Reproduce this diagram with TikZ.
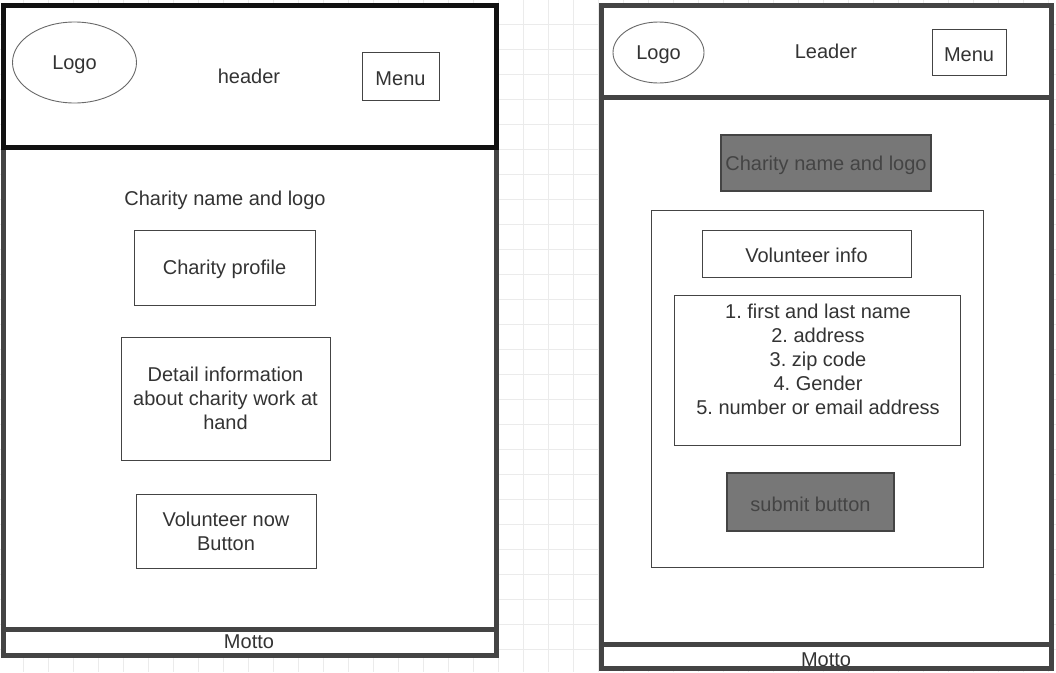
\documentclass[tikz,border=0pt]{standalone}
\usepackage{fontspec}
\setmainfont{Liberation Sans}
\usetikzlibrary{positioning, shapes.geometric}
\frenchspacing

\definecolor{gridgray}{HTML}{EBEBEB}
\definecolor{framegray}{HTML}{444444}
\definecolor{headblack}{HTML}{111111}
\definecolor{txtgray}{HTML}{333333}
\definecolor{btngray}{HTML}{777777}

\begin{document}
\begin{tikzpicture}[x=1pt, y=-1pt,
    every node/.style={font=\fontsize{20}{24}\selectfont, text=txtgray, align=center, inner sep=0pt,
      execute at begin node=\rule{0pt}{18.5pt}},
    wirebox/.style={draw=framegray, line width=1pt, fill=white},
    greybox/.style={draw=framegray, line width=1.3pt, fill=btngray, text=framegray},
    logoshape/.style={ellipse, draw=framegray!80, line width=0.9pt},
    frameline/.style={draw=framegray, line width=5pt}]

    \useasboundingbox (0,0) rectangle (1056,672);

    % Draw background grid
    \foreach \i in {0,...,41} {
      \draw[gridgray, line width=1pt] (23.3+25*\i,0) -- (23.3+25*\i,672);
    }
    \foreach \j in {1,...,27} {
      \draw[gridgray, line width=1pt] (0,-1+25*\j) -- (1056,-1+25*\j);
    }

    % White pages
    \fill[white] (3,5) rectangle (496.5,655.5);
    \fill[white] (601,5) rectangle (1051.5,668);

    % Left page: header
    \node[logoshape, minimum width=124, minimum height=81] (logoL) at (74.5,62.5) {Logo};
    \node (headerL) at (249,74) {header};
    \node[wirebox, minimum width=77, minimum height=48] (menuL) at (400.5,76) {Menu};

    % Left page: body
    \node (nameL) at (225,198) {Charity name and logo};
    \node[wirebox, minimum width=181, minimum height=75] (profile) at (224.5,267.5) {Charity profile};
    \node[wirebox, minimum width=209, minimum height=123] (detail) at (225.5,398.5) {Detail information\\about charity work at\\hand};
    \node[wirebox, minimum width=180, minimum height=74] (volunteer) at (226,531) {Volunteer now\\Button};
    \node (mottoL) at (249,639) {Motto};

    % Right page: header
    \node[logoshape, minimum width=91, minimum height=61] (logoR) at (658.5,52.5) {Logo};
    \node (leader) at (826,49) {Leader};
    \node[wirebox, minimum width=74, minimum height=46] (menuR) at (969,52) {Menu};

    % Right page: form
    \node[greybox, minimum width=210, minimum height=56] (nameR) at (826,163) {Charity name and logo};
    \node[wirebox, line width=0.9pt, minimum width=332, minimum height=357] (form) at (817,388.5) {};
    \node[wirebox, minimum width=209, minimum height=47] (info) at (806.5,253.5) {Volunteer info};
    \node[wirebox, minimum width=286, minimum height=150] (list) at (817,370) {};
    \node[anchor=north] (items) at ([xshift=1pt, yshift=-9pt]list.north) {1. first and last name\\2. address\\3. zip code\\4. Gender\\5. number or email address};
    \node[greybox, minimum width=167, minimum height=58] (submit) at (810.5,502) {submit button};
    \node (mottoR) at (826,657) {Motto};

    % Page frames
    \draw[frameline] (3,147.5) rectangle (496.5,629);
    \draw[frameline] (3,629) rectangle (496.5,655.5);
    \draw[frameline, draw=headblack] (3,5) rectangle (496.5,147.5);
    \draw[frameline] (601,5) rectangle (1051.5,97);
    \draw[frameline] (601,97) rectangle (1051.5,644.3);
    \draw[frameline] (601,644.3) rectangle (1051.5,668);

  \end{tikzpicture}
\end{document}
